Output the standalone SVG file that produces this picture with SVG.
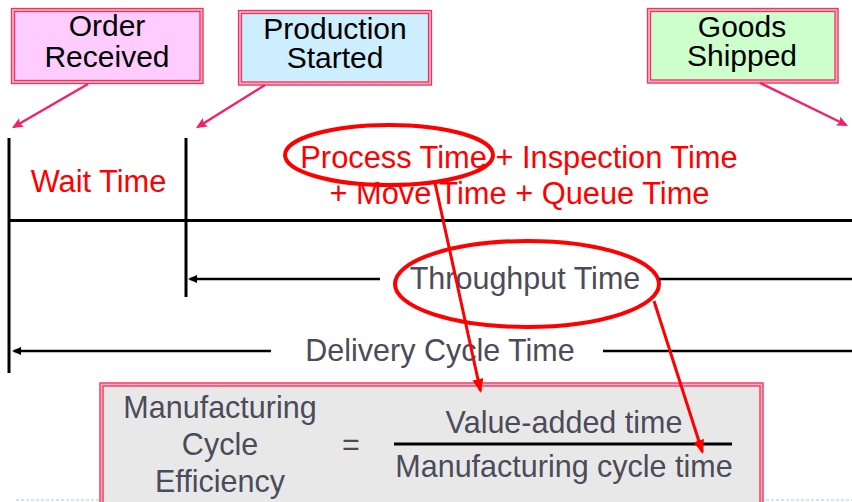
<svg xmlns="http://www.w3.org/2000/svg" width="852" height="502" viewBox="0 0 852 502">
  <defs>
    <style>
      .lbl { font-family: "Liberation Sans", Arial, sans-serif; text-anchor: middle; }
      .box-text { font-size: 30px; fill: #000; }
      .red-text { font-size: 30.8px; fill: #ff0000; }
      .grey-text { font-size: 30.5px; fill: #4b4b5a; }
      .frame-mid { fill: none; stroke: #ffb3c2; stroke-width: 4; }
      .frame-line { fill: none; stroke: #f2335f; stroke-width: 1.3; }
      .axis { stroke: #000; stroke-width: 3; fill: none; }
      .span { stroke: #000; stroke-width: 2.5; fill: none; }
      .pointer { stroke: #f5206c; stroke-width: 2.5; fill: none; }
      .link { stroke: #ff0000; stroke-width: 3; fill: none; }
      .ring { stroke: #ff0000; stroke-width: 4; fill: none; }
    </style>
    <marker id="head-pink" markerUnits="userSpaceOnUse" markerWidth="14" markerHeight="12" refX="9" refY="5" orient="auto">
      <polygon points="0,0 11,5 0,10 2,5" fill="#f5206c"/>
    </marker>
    <marker id="head-black" markerUnits="userSpaceOnUse" markerWidth="12" markerHeight="10" refX="7" refY="4" orient="auto">
      <polygon points="0,0 9,4 0,8" fill="#000"/>
    </marker>
    <marker id="head-red" markerUnits="userSpaceOnUse" markerWidth="18" markerHeight="14" refX="12" refY="5.5" orient="auto">
      <polygon points="0,0 14,5.5 0,11" fill="#ff0000"/>
    </marker>
  </defs>

  <rect width="852" height="502" fill="#fff"/>

  <!-- page footer rule -->
  <line x1="16" y1="500" x2="852" y2="500" stroke="#a9c3df" stroke-width="1.2" stroke-dasharray="3 2"/>

  <!-- timeline frame -->
  <g id="timeline">
    <line class="axis" x1="9" y1="138" x2="9" y2="373"/>
    <line class="axis" x1="186" y1="138" x2="186" y2="297"/>
    <line class="axis" x1="9" y1="220.5" x2="852" y2="220.5"/>
  </g>

  <!-- milestone boxes -->
  <g id="order-received">
    <rect x="11.5" y="8.5" width="191.5" height="75" fill="#ffccff"/>
    <rect class="frame-mid" x="13" y="10" width="188.5" height="72"/>
    <rect class="frame-line" x="11.5" y="8.5" width="191.5" height="75"/>
    <rect class="frame-line" x="14.5" y="11.5" width="185.5" height="69"/>
    <text class="lbl box-text" x="107" y="36">Order</text>
    <text class="lbl box-text" x="107" y="67">Received</text>
  </g>

  <g id="production-started">
    <rect x="238.5" y="10.5" width="193" height="74.5" fill="#cceeff"/>
    <rect class="frame-mid" x="240" y="12" width="190" height="71.5"/>
    <rect class="frame-line" x="238.5" y="10.5" width="193" height="74.5"/>
    <rect class="frame-line" x="241.5" y="13.5" width="187" height="68.5"/>
    <text class="lbl box-text" x="335" y="39">Production</text>
    <text class="lbl box-text" x="335" y="68">Started</text>
  </g>

  <g id="goods-shipped">
    <rect x="647.5" y="8.5" width="190.5" height="74.5" fill="#ccffcc"/>
    <rect class="frame-mid" x="649" y="10" width="187.5" height="71.5"/>
    <rect class="frame-line" x="647.5" y="8.5" width="190.5" height="74.5"/>
    <rect class="frame-line" x="650.5" y="11.5" width="184.5" height="68.5"/>
    <text class="lbl box-text" x="742" y="37">Goods</text>
    <text class="lbl box-text" x="742" y="66">Shipped</text>
  </g>

  <!-- time components -->
  <g id="wait-time">
    <text class="lbl red-text" x="98.5" y="192">Wait Time</text>
  </g>

  <g id="components">
    <text class="lbl red-text" x="519" y="168">Process Time + Inspection Time</text>
    <text class="lbl red-text" x="519.5" y="204">+ Move Time + Queue Time</text>
    <ellipse class="ring" cx="389" cy="155" rx="104" ry="30"/>
  </g>

  <g id="throughput-time">
    <text class="lbl grey-text" x="525" y="289">Throughput Time</text>
    <ellipse class="ring" cx="527" cy="284" rx="132" ry="43"/>
  </g>

  <g id="delivery-cycle-time">
    <text class="lbl grey-text" x="440" y="361">Delivery Cycle Time</text>
  </g>

  <!-- formula -->
  <g id="formula">
    <rect x="100" y="383" width="663" height="125" fill="#e8e8e8"/>
    <rect class="frame-mid" x="101.5" y="384.5" width="660" height="122"/>
    <rect class="frame-line" x="100" y="383" width="663" height="125"/>
    <rect class="frame-line" x="103" y="386" width="657" height="119"/>
    <text class="lbl grey-text" x="220" y="418">Manufacturing</text>
    <text class="lbl grey-text" x="220" y="455">Cycle</text>
    <text class="lbl grey-text" x="220" y="492">Efficiency</text>
    <text class="lbl grey-text" x="351" y="455" font-size="32">=</text>
    <text class="lbl grey-text" x="564" y="433">Value-added time</text>
    <line x1="394" y1="444" x2="732" y2="444" stroke="#000" stroke-width="3"/>
    <text class="lbl grey-text" x="564" y="477">Manufacturing cycle time</text>
  </g>

  <!-- connectors -->
  <g id="connectors">
    <line class="pointer" x1="88" y1="84" x2="13.7" y2="127" marker-end="url(#head-pink)"/>
    <line class="pointer" x1="265" y1="85" x2="197.7" y2="127" marker-end="url(#head-pink)"/>
    <line class="pointer" x1="760" y1="83" x2="846.2" y2="125" marker-end="url(#head-pink)"/>

    <line class="span" x1="380" y1="279" x2="190" y2="279" marker-end="url(#head-black)"/>
    <line class="span" x1="659" y1="279" x2="852" y2="279"/>
    <line class="span" x1="271" y1="351" x2="14" y2="351" marker-end="url(#head-black)"/>
    <line class="span" x1="603" y1="351" x2="852" y2="351"/>

    <line class="link" x1="435" y1="183" x2="480.5" y2="391" marker-end="url(#head-red)"/>
    <line class="link" x1="654" y1="301" x2="702.4" y2="452" marker-end="url(#head-red)"/>
  </g>
</svg>
